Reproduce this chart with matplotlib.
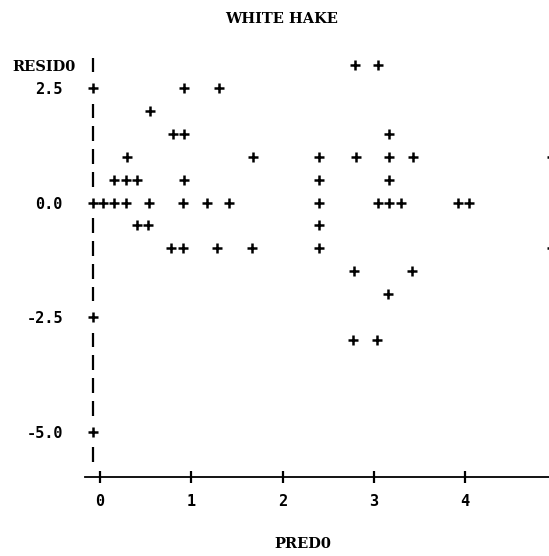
import matplotlib

matplotlib.use("Agg")
import matplotlib.pyplot as plt

# residual vs predicted values, one entry per printed point
pred = [
    2.79, 3.05,
    0.92, 1.30,
    0.55,
    0.80, 0.92, 3.17,
    0.30, 1.68, 2.40, 2.80, 3.17, 3.43, 4.95,
    0.15, 0.28, 0.41, 0.92, 2.40, 3.17,
    0.03, 0.15, 0.28, 0.54, 0.91, 1.17, 1.41, 2.40, 3.04, 3.17, 3.30, 3.92, 4.04,
    0.41, 0.53, 2.40,
    0.78, 0.91, 1.28, 1.67, 2.40, 4.95,
    2.78, 3.42,
    3.15,
    2.77, 3.03,
]
resid = [
    3.0, 3.0,
    2.5, 2.5,
    2.0,
    1.5, 1.5, 1.5,
    1.0, 1.0, 1.0, 1.0, 1.0, 1.0, 1.0,
    0.5, 0.5, 0.5, 0.5, 0.5, 0.5,
    0.0, 0.0, 0.0, 0.0, 0.0, 0.0, 0.0, 0.0, 0.0, 0.0, 0.0, 0.0, 0.0,
    -0.5, -0.5, -0.5,
    -1.0, -1.0, -1.0, -1.0, -1.0, -1.0,
    -1.5, -1.5,
    -2.0,
    -3.0, -3.0,
]

x_ticks = [0, 1, 2, 3, 4]
y_ticks = [2.5, 0.0, -2.5, -5.0]
y_tick_labels = ["2.5", "0.0", "-2.5", "-5.0"]
# printer rows carrying the vertical axis
axis_rows = [3.0 - 0.5 * i for i in range(18)]
axis_x = -0.08

num_font = dict(family="DejaVu Sans Mono", weight="bold", size=11)
name_font = dict(family="DejaVu Serif", weight="bold", size=10.5)

fig = plt.figure(figsize=(5.49, 5.56), dpi=100)
ax = fig.add_axes([0.1548, 0.1415, 0.8452, 0.7826])

ax.plot(pred, resid, linestyle="none", marker="+", markersize=7.5,
        markeredgewidth=1.8, color="black")

# vertical axis: '|' on plain rows, '+' on labelled rows
plain_rows = [r for r in axis_rows if r not in y_ticks]
ax.vlines([axis_x] * len(plain_rows), [r - 0.16 for r in plain_rows],
          [r + 0.16 for r in plain_rows], color="black", linewidth=1.6)
ax.plot([axis_x] * len(y_ticks), y_ticks, linestyle="none", marker="+",
        markersize=7.5, markeredgewidth=1.8, color="black", clip_on=False)

ax.set_xlim(-0.164, 4.918)
ax.set_ylim(-6.0, 3.5)

for side in ["top", "right", "left"]:
    ax.spines[side].set_visible(False)
ax.spines["bottom"].set_linewidth(1.3)

ax.set_xticks(x_ticks)
ax.set_xticklabels([str(t) for t in x_ticks], fontdict=num_font)
ax.tick_params(axis="x", direction="inout", length=8, width=1.6, pad=8)
ax.set_yticks(y_ticks)
ax.set_yticklabels(y_tick_labels, fontdict=num_font)
ax.tick_params(axis="y", length=0, pad=16)

ax.set_xlabel("PRED0", fontdict=name_font)
ax.xaxis.set_label_coords(0.47, -0.136)

fig.text(76 / 549, 1 - 67 / 556, "RESID0", ha="right", va="center", **name_font)
fig.text(0.512, 0.966, "WHITE HAKE", ha="center", va="center", **name_font)

fig.savefig("out.png", dpi=100)
